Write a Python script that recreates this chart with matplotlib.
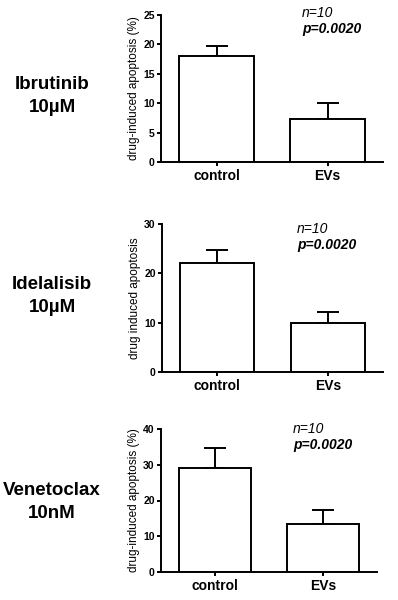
import matplotlib
matplotlib.use("Agg")
import matplotlib.pyplot as plt

plt.rcParams['font.family'] = ['Liberation Sans', 'DejaVu Sans']

groups = ["control", "EVs"]
drugs = ["Ibrutinib\n10µM", "Idelalisib\n10µM", "Venetoclax\n10nM"]
ylabels = ["drug-induced apoptosis (%)", "drug induced apoptosis", "drug-induced apoptosis (%)"]
means = [[18.0, 7.3], [22.1, 9.9], [29.2, 13.4]]
errors = [[1.8, 2.8], [2.7, 2.2], [5.4, 4.0]]
ymax = [25, 30, 40]
ysteps = [5, 10, 10]
n_text = "n=10"
p_text = "p=0.0020"

W, H = 398, 600
# axes boxes in pixels: left, top, right, bottom
boxes = [(161, 15, 383, 162), (162, 224, 383, 372), (161, 429, 377, 572)]
label_y = [96, 296, 502]
# stats text anchor (x, y of n line) in pixels
stat_pos = [(302, 13), (297, 229), (293, 429)]

fig = plt.figure(figsize=(W / 100, H / 100), dpi=100)
lw = 1.4

for i in range(3):
    l, t, r, b = boxes[i]
    ax = fig.add_axes([l / W, 1 - b / H, (r - l) / W, (b - t) / H])
    x = [0, 1]
    ax.bar(x, means[i], width=0.67, color="white", edgecolor="black", linewidth=lw, zorder=2)
    ax.errorbar(x, means[i], yerr=[[0, 0], errors[i]], fmt="none", ecolor="black",
                elinewidth=lw, capsize=8, capthick=lw, zorder=1)
    ax.set_xlim(-0.5, 1.5)
    ax.set_ylim(0, ymax[i])
    ax.set_yticks(range(0, ymax[i] + 1, ysteps[i]))
    ax.set_xticks(x)
    ax.set_xticklabels(groups, fontsize=10, fontweight="bold")
    for lab in ax.get_yticklabels():
        lab.set_fontsize(7.5)
        lab.set_fontweight("bold")
    ax.spines["top"].set_visible(False)
    ax.spines["right"].set_visible(False)
    ax.spines["left"].set_linewidth(lw)
    ax.spines["bottom"].set_linewidth(lw)
    ax.tick_params(axis="both", width=lw, length=3, pad=1.5)
    ax.tick_params(axis="x", pad=2)
    ax.set_ylabel(ylabels[i], fontsize=8.5, labelpad=2)
    sx, sy = stat_pos[i]
    fig.text(sx / W, 1 - sy / H, n_text, fontsize=10, style="italic",
             va="center", ha="left")
    fig.text(sx / W, 1 - (sy + 16) / H, p_text, fontsize=10, style="italic",
             fontweight="bold", va="center", ha="left")
    fig.text(52 / W, 1 - label_y[i] / H, drugs[i], fontsize=13.5, fontweight="bold",
             ha="center", va="center", linespacing=1.45)

fig.savefig("out.png", dpi=100)
